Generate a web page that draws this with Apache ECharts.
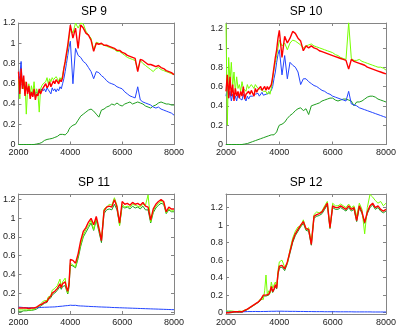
<!DOCTYPE html>
<html>
<head>
<meta charset="utf-8">
<script src="https://cdn.jsdelivr.net/npm/echarts@6/dist/echarts.min.js"></script>
<style>
  html, body { margin: 0; padding: 0; background: #fff; }
  #chart { width: 399px; height: 327px; }
</style>
</head>
<body>
<div id="chart"></div>
<script>
// wavelength samples (denser in the noisy UV part)
var wave = [2000, 2050, 2100, 2150, 2200, 2250, 2300, 2350, 2400, 2450,
  2500, 2550, 2600, 2650, 2700, 2750, 2800, 2850, 2900, 2950,
  3000, 3050, 3100, 3150, 3200, 3250, 3300, 3350, 3400, 3450,
  3500, 3550, 3600, 3650, 3700, 3750, 3800, 3850, 3900, 3950,
  4000,
  4100, 4200, 4300, 4400, 4500, 4600, 4700, 4800, 4900, 5000,
  5100, 5200, 5300, 5400, 5500, 5600, 5700, 5800, 5900, 6000,
  6100, 6200, 6300, 6400, 6500, 6600, 6700, 6800, 6900, 7000,
  7100, 7200, 7300, 7400, 7500, 7600, 7700, 7800, 7900, 8000]

var titles = ['SP 9', 'SP 10', 'SP 11', 'SP 12']
var xTicks = [2000, 4000, 6000, 8000]
var yTicks = [0, 0.2, 0.4, 0.6, 0.8, 1, 1.2]
var yMin = [0, 0, -0.024, -0.015]
var yMax = [1.2, 1.257, 1.26, 1.355]

// SP 9
var sp9Red = [0.72, 0.5, 0.75, 0.55, 0.68, 0.48, 0.62, 0.5, 0.58, 0.45,
  0.52, 0.47, 0.55, 0.44, 0.5, 0.48, 0.55, 0.5, 0.53, 0.56,
  0.55, 0.6, 0.56, 0.58, 0.62, 0.57, 0.6, 0.63, 0.6, 0.64,
  0.62, 0.6, 0.64, 0.62, 0.66, 0.75, 0.82, 0.9, 0.98, 1.08,
  1.18,
  1.05, 1.15, 0.95, 1.18, 1.15, 1.1, 1.08, 1.03, 0.92, 1.0,
  0.99, 1.0, 0.98, 0.98, 0.97, 0.96, 0.95, 0.93, 0.93, 0.91,
  0.9, 0.88, 0.87, 0.86, 0.85, 0.72, 0.84, 0.83, 0.81, 0.79,
  0.79, 0.78, 0.77, 0.78, 0.76, 0.75, 0.73, 0.72, 0.71, 0.69]
var sp9Lime = [0.65, 0.45, 0.7, 0.6, 0.55, 0.62, 0.3, 0.55, 0.6, 0.5,
  0.58, 0.5, 0.62, 0.48, 0.55, 0.5, 0.32, 0.55, 0.58, 0.6,
  0.6, 0.62, 0.66, 0.6, 0.65, 0.62, 0.66, 0.64, 0.65, 0.67,
  0.65, 0.62, 0.66, 0.64, 0.68, 0.76, 0.8, 0.88, 0.95, 1.05,
  1.15,
  1.1, 1.2, 1.15, 1.2, 1.19, 1.12, 1.08, 1.05, 0.93, 1.01,
  1.0, 0.99, 0.98, 0.97, 0.96, 0.95, 0.94, 0.92, 0.92, 0.9,
  0.88, 0.86, 0.85, 0.84, 0.83, 0.74, 0.83, 0.8, 0.78, 0.76,
  0.74, 0.72, 0.75, 0.76, 0.74, 0.73, 0.72, 0.71, 0.7, 0.69]
var sp9Blue = [0.6, 0.68, 0.82, 0.55, 0.6, 0.5, 0.58, 0.52, 0.55, 0.5,
  0.52, 0.48, 0.53, 0.5, 0.52, 0.5, 0.54, 0.52, 0.55, 0.53,
  0.55, 0.52, 0.56, 0.54, 0.55, 0.5, 0.56, 0.53, 0.55, 0.52,
  0.55, 0.53, 0.57, 0.55, 0.6, 0.65, 0.72, 0.8, 0.88, 0.96,
  1.02,
  0.6, 0.95, 0.88, 0.86, 0.82, 0.8, 0.76, 0.72, 0.65, 0.72,
  0.71, 0.68, 0.66, 0.63, 0.61, 0.6, 0.59, 0.57, 0.56, 0.55,
  0.52, 0.5, 0.48, 0.47, 0.46, 0.57, 0.44, 0.42, 0.41, 0.4,
  0.39, 0.37, 0.36, 0.37, 0.35, 0.34, 0.33, 0.32, 0.31, 0.29]
var sp9DkGreen = [0, 0, 0, 0, 0, 0, 0, 0, 0, 0,
  0, 0, 0, 0.003, 0.005, 0.008, 0.01, 0.015, 0.02, 0.03,
  0.04, 0.045, 0.05, 0.05, 0.055, 0.06, 0.06, 0.065, 0.07, 0.075,
  0.08, 0.085, 0.1, 0.09, 0.1, 0.11, 0.095, 0.105, 0.12, 0.15,
  0.17,
  0.19, 0.2, 0.24, 0.28, 0.3, 0.32, 0.34, 0.35, 0.33, 0.3,
  0.27, 0.34, 0.35, 0.37, 0.38, 0.4, 0.39, 0.41, 0.39, 0.38,
  0.4, 0.41, 0.42, 0.4, 0.41, 0.42, 0.41, 0.4, 0.38, 0.37,
  0.36, 0.38, 0.39, 0.41, 0.42, 0.41, 0.4, 0.4, 0.39, 0.39]

// SP 10
var sp10Red = [0.55, 0.72, 0.48, 0.7, 0.5, 0.62, 0.45, 0.58, 0.5, 0.55,
  0.48, 0.55, 0.5, 0.6, 0.47, 0.52, 0.5, 0.55, 0.52, 0.56,
  0.55, 0.5, 0.58, 0.54, 0.57, 0.55, 0.6, 0.56, 0.58, 0.6,
  0.56, 0.6, 0.57, 0.58, 0.62, 0.7, 0.8, 0.9, 0.98, 1.1,
  1.18,
  0.9, 1.12, 1.05, 1.1, 1.17, 1.15, 1.1, 1.07, 0.97, 1.02,
  1.0, 1.02, 1.0, 0.99, 0.97, 0.96, 0.95, 0.94, 0.93, 0.92,
  0.91, 0.9, 0.89, 0.88, 0.87, 0.78, 0.88, 0.86, 0.85, 0.84,
  0.83, 0.82, 0.8, 0.79, 0.78, 0.77, 0.76, 0.75, 0.74, 0.73]
var sp10Lime = [1.25, 0.2, 0.9, 0.65, 0.85, 0.6, 0.75, 0.55, 0.7, 0.58,
  0.62, 0.55, 0.65, 0.58, 0.6, 0.55, 0.62, 0.58, 0.6, 0.62,
  0.6, 0.58, 0.62, 0.6, 0.58, 0.6, 0.57, 0.58, 0.55, 0.57,
  0.55, 0.52, 0.55, 0.52, 0.58, 0.68, 0.78, 0.85, 0.92, 1.0,
  1.08,
  1.02, 1.05, 0.98, 1.05, 1.08, 1.07, 1.05, 1.03, 1.0, 1.02,
  1.03, 1.04, 1.02, 1.01, 1.0, 0.99, 0.98, 0.97, 0.96, 0.95,
  0.93, 0.92, 0.9, 0.89, 0.88, 1.26, 0.89, 0.87, 0.87, 0.88,
  0.86, 0.85, 0.84, 0.83, 0.82, 0.81, 0.8, 0.8, 0.79, 0.77]
var sp10Blue = [0.5, 0.6, 0.48, 0.55, 0.45, 0.52, 0.47, 0.5, 0.45, 0.52,
  0.48, 0.5, 0.46, 0.52, 0.48, 0.45, 0.5, 0.47, 0.5, 0.52,
  0.5, 0.48, 0.52, 0.5, 0.53, 0.5, 0.52, 0.54, 0.51, 0.53,
  0.52, 0.5, 0.53, 0.52, 0.56, 0.6, 0.68, 0.75, 0.85, 0.93,
  0.98,
  0.72, 0.92, 0.68, 0.85, 0.82, 0.8, 0.75, 0.62, 0.68, 0.68,
  0.65, 0.63, 0.61, 0.6, 0.58, 0.56, 0.55, 0.53, 0.52, 0.5,
  0.49, 0.48, 0.47, 0.46, 0.45, 0.55, 0.42, 0.41, 0.4, 0.38,
  0.37, 0.36, 0.35, 0.34, 0.33, 0.32, 0.31, 0.3, 0.29, 0.28]
var sp10DkGreen = [0, 0, 0, 0, 0, 0, 0, 0, 0, 0,
  0, 0, 0, 0.003, 0.005, 0.01, 0.01, 0.015, 0.02, 0.025,
  0.03, 0.035, 0.04, 0.045, 0.05, 0.055, 0.06, 0.065, 0.07, 0.075,
  0.08, 0.085, 0.09, 0.09, 0.1, 0.11, 0.1, 0.11, 0.13, 0.17,
  0.2,
  0.21, 0.23, 0.27, 0.3, 0.32, 0.35, 0.37, 0.38, 0.35, 0.37,
  0.31, 0.4, 0.41, 0.42, 0.43, 0.45, 0.46, 0.47, 0.48, 0.48,
  0.46, 0.45, 0.46, 0.47, 0.47, 0.46, 0.45, 0.4, 0.44, 0.44,
  0.45, 0.47, 0.49, 0.5, 0.5, 0.49, 0.47, 0.46, 0.45, 0.44]

// SP 11
var sp11Red = [0.04, 0.045, 0.04, 0.05, 0.04, 0.045, 0.04, 0.04, 0.035, 0.04,
  0.04, 0.035, 0.04, 0.045, 0.05, 0.06, 0.07, 0.065, 0.08, 0.09,
  0.1, 0.12, 0.11, 0.14, 0.15, 0.17, 0.2, 0.21, 0.22, 0.24,
  0.25, 0.27, 0.3, 0.26, 0.3, 0.28, 0.32, 0.26, 0.22, 0.3,
  0.56,
  0.55, 0.52, 0.62, 0.76, 0.86, 0.9, 0.96, 1.0, 0.93, 1.02,
  0.9, 0.76, 1.08, 1.12, 1.13, 1.12, 1.2, 1.12, 0.95, 1.18,
  1.15, 1.16, 1.14, 1.17, 1.15, 1.16, 1.14, 1.17, 1.13, 1.12,
  0.98, 1.1, 1.15, 1.18, 1.2, 1.18, 1.07, 1.12, 1.1, 1.1]
var sp11Lime = [0.02, 0.01, 0.02, 0.015, 0.02, 0.01, 0.02, 0.015, 0.02, 0.02,
  0.02, 0.03, 0.025, 0.04, 0.05, 0.07, 0.06, 0.08, 0.1, 0.09,
  0.12, 0.13, 0.12, 0.16, 0.18, 0.17, 0.23, 0.22, 0.25, 0.27,
  0.28, 0.3, 0.35, 0.27, 0.32, 0.3, 0.36, 0.25, 0.2, 0.32,
  0.52,
  0.5, 0.48, 0.6, 0.72, 0.82, 0.88, 0.92, 0.98, 0.88, 1.0,
  0.88, 0.78, 1.1, 1.12, 1.15, 1.14, 1.22, 1.14, 0.92, 1.15,
  1.12, 1.13, 1.12, 1.15, 1.14, 1.13, 1.12, 1.15, 1.14, 1.25,
  0.96, 1.08, 1.13, 1.16, 1.18, 1.17, 1.06, 1.1, 1.08, 1.08]
var sp11Blue = [0.05, 0.052, 0.048, 0.05, 0.045, 0.047, 0.044, 0.045, 0.043, 0.044,
  0.042, 0.043, 0.041, 0.042, 0.043, 0.045, 0.044, 0.046, 0.047, 0.048,
  0.048, 0.05, 0.049, 0.05, 0.05, 0.052, 0.051, 0.053, 0.052, 0.054,
  0.055, 0.056, 0.058, 0.057, 0.06, 0.062, 0.064, 0.063, 0.066, 0.068,
  0.07,
  0.068, 0.069, 0.064, 0.062, 0.061, 0.059, 0.058, 0.056, 0.055, 0.054,
  0.052, 0.051, 0.05, 0.049, 0.048, 0.046, 0.045, 0.044, 0.043, 0.042,
  0.041, 0.04, 0.039, 0.038, 0.037, 0.036, 0.035, 0.034, 0.033, 0.032,
  0.031, 0.03, 0.029, 0.028, 0.027, 0.026, 0.025, 0.024, 0.023, 0.022]
var sp11DkGreen = [0, 0.005, 0, 0.005, 0.01, 0.005, 0.01, 0.01, 0.015, 0.01,
  0.015, 0.02, 0.02, 0.025, 0.03, 0.04, 0.05, 0.05, 0.07, 0.07,
  0.09, 0.1, 0.1, 0.13, 0.14, 0.15, 0.18, 0.19, 0.2, 0.22,
  0.23, 0.24, 0.27, 0.24, 0.27, 0.25, 0.28, 0.23, 0.19, 0.26,
  0.5,
  0.49, 0.47, 0.57, 0.7, 0.8, 0.85, 0.9, 0.95, 0.87, 0.98,
  0.86, 0.74, 1.05, 1.09, 1.1, 1.09, 1.15, 1.09, 0.93, 1.13,
  1.11, 1.12, 1.1, 1.13, 1.11, 1.12, 1.1, 1.13, 1.09, 1.09,
  0.95, 1.06, 1.11, 1.14, 1.16, 1.15, 1.05, 1.09, 1.07, 1.07]

// SP 12
var sp12Red = [0, 0.005, 0, 0.01, 0.005, 0, 0.01, 0.005, 0.01, 0.01,
  0.01, 0.015, 0.01, 0.02, 0.025, 0.035, 0.04, 0.05, 0.06, 0.07,
  0.08, 0.09, 0.1, 0.11, 0.12, 0.13, 0.15, 0.17, 0.2, 0.19,
  0.2, 0.22, 0.21, 0.24, 0.3, 0.24, 0.27, 0.32, 0.28, 0.45,
  0.53,
  0.54, 0.5, 0.58, 0.7, 0.82, 0.9, 0.95, 1.0, 1.04, 0.96,
  0.95, 0.78, 1.1, 1.12, 1.13, 1.15, 1.2, 1.25, 0.97, 1.22,
  1.2, 1.2, 1.22, 1.2, 1.18, 1.22, 1.18, 1.2, 1.05, 1.22,
  1.15, 1.03, 1.15, 1.22, 1.25, 1.2, 1.22, 1.18, 1.16, 1.18]
var sp12Lime = [0.02, 0.01, 0.02, 0.015, 0.02, 0.01, 0.015, 0.02, 0.01, 0.015,
  0.02, 0.02, 0.015, 0.025, 0.03, 0.04, 0.04, 0.06, 0.06, 0.08,
  0.08, 0.1, 0.1, 0.12, 0.12, 0.14, 0.16, 0.14, 0.15, 0.25,
  0.43, 0.2, 0.25, 0.22, 0.35, 0.28, 0.3, 0.35, 0.3, 0.48,
  0.58,
  0.6, 0.52, 0.56, 0.72, 0.85, 0.93, 0.98, 0.98, 1.06, 0.95,
  0.97, 0.8, 1.12, 1.15, 1.14, 1.16, 1.22, 1.27, 0.97, 1.25,
  1.22, 1.22, 1.24, 1.22, 1.2, 1.24, 1.2, 1.22, 1.1, 1.25,
  1.18, 0.9, 1.2, 1.35, 1.32, 1.28, 1.25, 1.27, 1.22, 1.25]
var sp12Blue = [0.012, 0.01, 0.013, 0.011, 0.012, 0.01, 0.012, 0.011, 0.01, 0.012,
  0.011, 0.012, 0.01, 0.012, 0.011, 0.012, 0.013, 0.012, 0.013, 0.012,
  0.013, 0.012, 0.014, 0.013, 0.013, 0.014, 0.013, 0.014, 0.014, 0.015,
  0.014, 0.015, 0.015, 0.014, 0.016, 0.015, 0.016, 0.016, 0.017, 0.016,
  0.017,
  0.017, 0.016, 0.016, 0.015, 0.015, 0.015, 0.014, 0.014, 0.014, 0.013,
  0.013, 0.013, 0.012, 0.012, 0.012, 0.012, 0.011, 0.011, 0.011, 0.011,
  0.011, 0.01, 0.01, 0.01, 0.01, 0.01, 0.01, 0.009, 0.009, 0.009,
  0.009, 0.009, 0.009, 0.009, 0.008, 0.008, 0.008, 0.008, 0.008, 0.008]
var sp12DkGreen = [0, 0, 0, 0.005, 0, 0, 0.005, 0, 0.005, 0.005,
  0.005, 0.01, 0.005, 0.015, 0.02, 0.03, 0.035, 0.045, 0.055, 0.065,
  0.075, 0.085, 0.095, 0.105, 0.115, 0.125, 0.14, 0.16, 0.19, 0.18,
  0.19, 0.21, 0.2, 0.23, 0.28, 0.23, 0.26, 0.3, 0.27, 0.43,
  0.51,
  0.52, 0.48, 0.56, 0.68, 0.8, 0.88, 0.93, 0.98, 1.02, 0.94,
  0.93, 0.77, 1.08, 1.1, 1.11, 1.13, 1.18, 1.23, 0.96, 1.2,
  1.18, 1.18, 1.2, 1.18, 1.16, 1.2, 1.16, 1.18, 1.04, 1.2,
  1.13, 1.02, 1.13, 1.2, 1.23, 1.18, 1.2, 1.16, 1.14, 1.16]

// draw order: dark green, blue, light green, red (red on top)
var panels = [
  [sp9DkGreen, sp9Blue, sp9Lime, sp9Red],
  [sp10DkGreen, sp10Blue, sp10Lime, sp10Red],
  [sp11DkGreen, sp11Blue, sp11Lime, sp11Red],
  [sp12DkGreen, sp12Blue, sp12Lime, sp12Red]
]
var colors = ['#1f9e1f', '#2244ff', '#77ff00', '#ff0000']
var widths = [1, 1, 1, 1.4]

var chart = echarts.init(document.getElementById('chart'))
var font = "'Liberation Sans', Arial, Helvetica, sans-serif"
var axisCol = '#858585'

var boxes = [
  { left: 14, top: 23 },
  { left: 226, top: 23 },
  { left: 14, top: 194 },
  { left: 226, top: 194 }
]

var grid = [], title = [], xAxis = [], yAxis = [], series = []
boxes.forEach(function (b, i) {
  grid.push({ left: b.left, top: b.top, width: 160, height: 121.5, show: false })
  title.push({
    text: titles[i], left: b.left + 80, top: b.top - 17.5, textAlign: 'center', padding: 0,
    textStyle: { fontSize: 12, fontWeight: 'normal', color: '#000', fontFamily: font }
  })
  var line = { show: true, onZero: false, lineStyle: { color: axisCol, width: 1 } }
  ;['bottom', 'top'].forEach(function (pos) {
    xAxis.push({
      gridIndex: i, type: 'value', position: pos, min: 2000, max: 8000, interval: 2000,
      axisLine: line,
      axisTick: { inside: true, length: 3, lineStyle: { color: axisCol } },
      axisLabel: {
        show: pos === 'bottom', fontSize: 9, color: '#222', margin: 4, fontFamily: font,
        customValues: xTicks,
        formatter: function (v) { return String(v) }
      },
      splitLine: { show: false }
    })
  })
  ;['left', 'right'].forEach(function (pos) {
    yAxis.push({
      gridIndex: i, type: 'value', position: pos, min: yMin[i], max: yMax[i],
      axisLine: line,
      axisTick: { inside: true, length: 3, lineStyle: { color: axisCol }, customValues: yTicks },
      axisLabel: {
        show: pos === 'left', fontSize: 9, color: '#222', margin: 3, fontFamily: font,
        customValues: yTicks,
        formatter: function (v) { return String(v) }
      },
      splitLine: { show: false }
    })
  })
  panels[i].forEach(function (vals, k) {
    series.push({
      type: 'line',
      xAxisIndex: i * 2,
      yAxisIndex: i * 2,
      data: wave.map(function (w, j) { return [w, vals[j]] }),
      showSymbol: false,
      symbol: 'none',
      clip: true,
      lineStyle: { color: colors[k], width: widths[k] },
      emphasis: { disabled: true }
    })
  })
})

chart.setOption({
  animation: false,
  backgroundColor: '#fff',
  title: title,
  grid: grid,
  xAxis: xAxis,
  yAxis: yAxis,
  series: series
})
</script>
</body>
</html>
